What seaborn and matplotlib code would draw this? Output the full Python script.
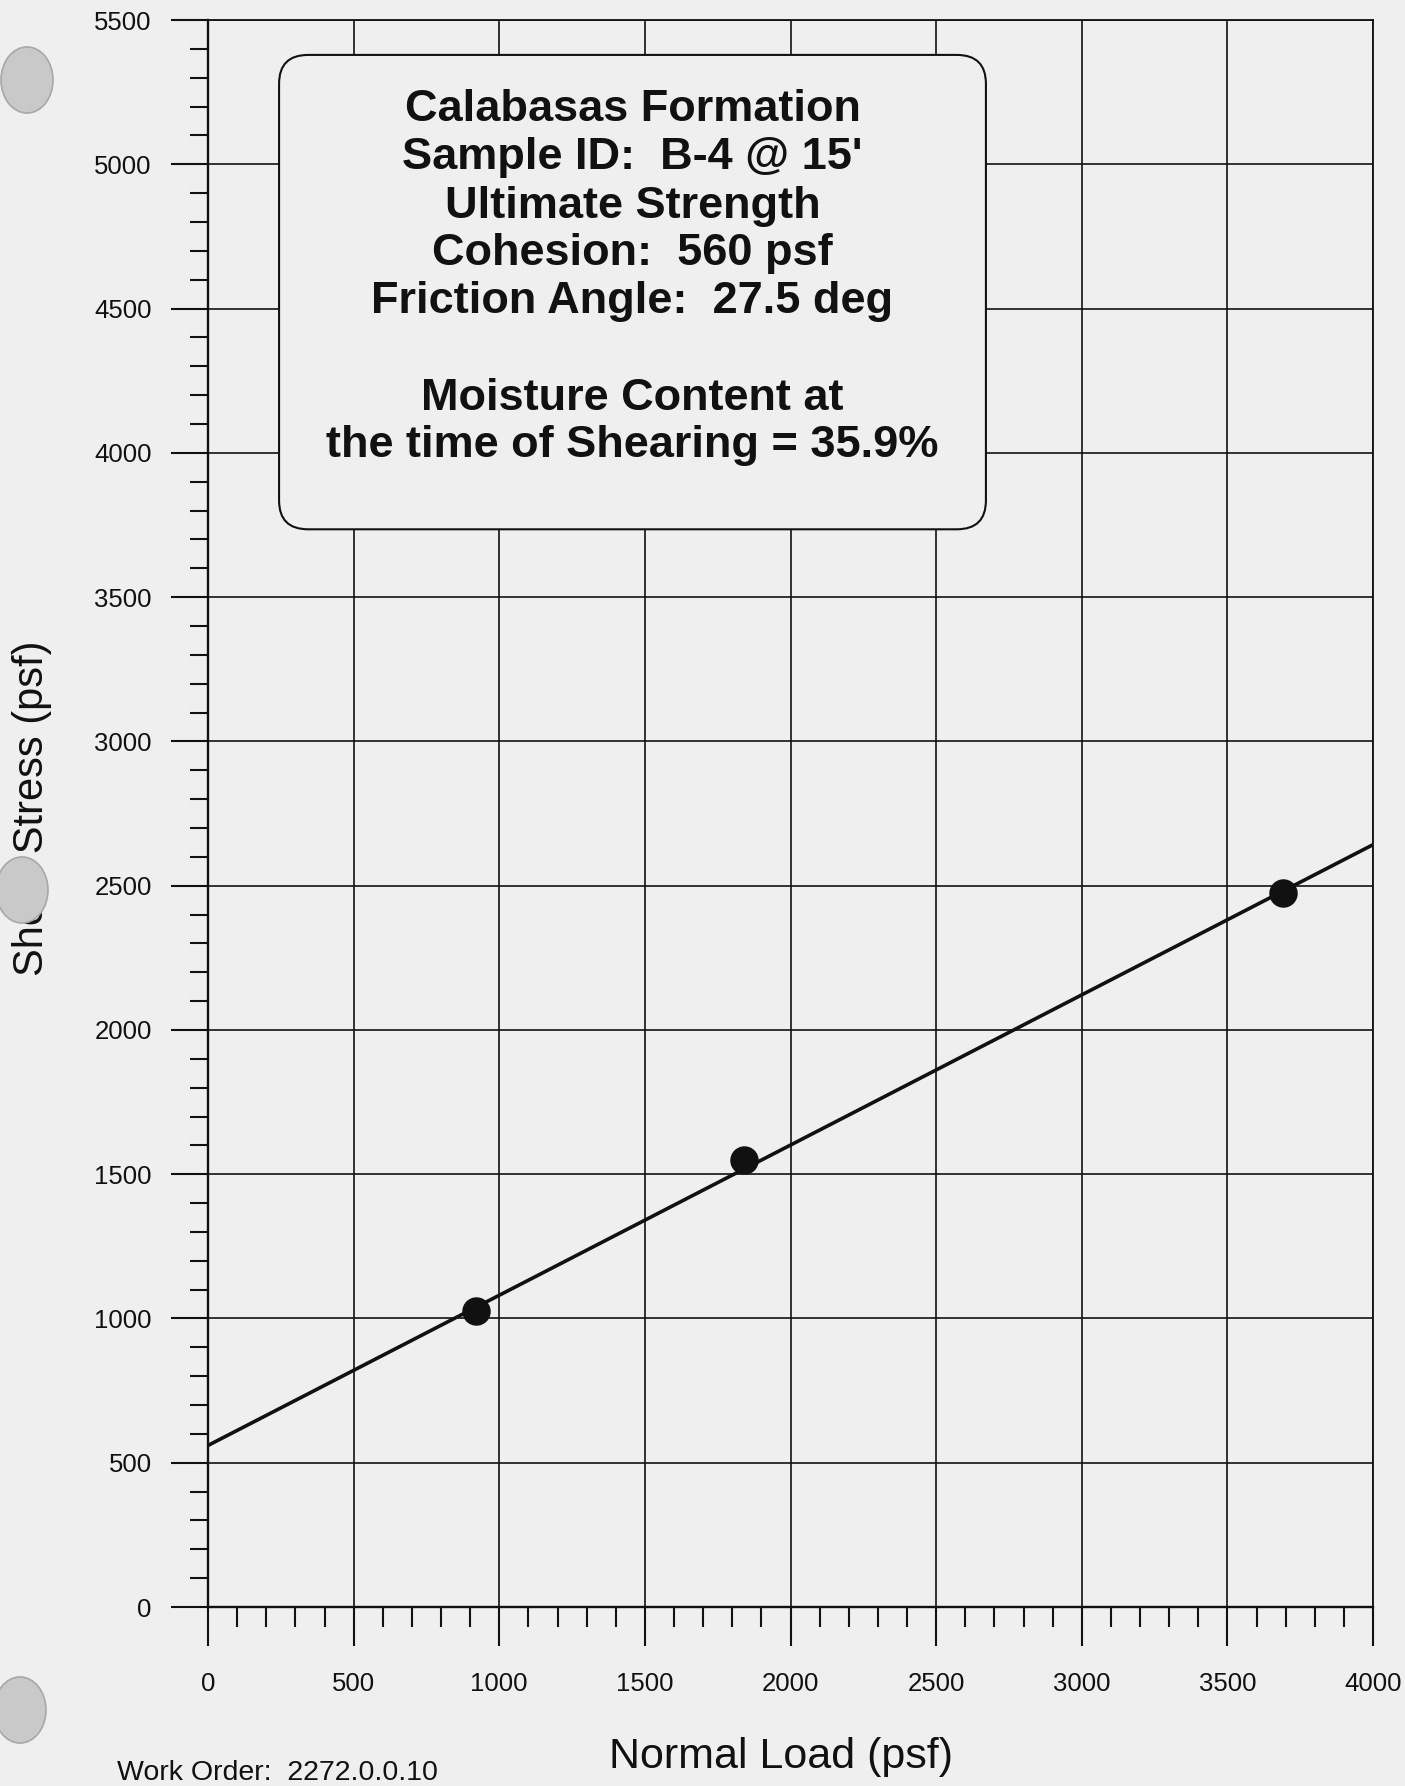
import numpy as np
import pandas as pd
import matplotlib
matplotlib.use("Agg")
import matplotlib.pyplot as plt
from matplotlib.patches import FancyBboxPatch, Circle
from matplotlib.ticker import MultipleLocator
import seaborn as sns

# Direct shear test results
normal_load = [920, 1840, 3690]          # psf
shear_stress = [1025, 1550, 2475]        # psf

# Strength envelope (cohesion 560 psf, friction angle 27.5 deg)
envelope_load = [0, 4000]
envelope_stress = [560, 2642]

summary_lines = [
    "Calabasas Formation",
    "Sample ID:  B-4 @ 15'",
    "Ultimate Strength",
    "Cohesion:  560 psf",
    "Friction Angle:  27.5 deg",
    "",
    "Moisture Content at",
    "the time of Shearing = 35.9%",
]

x_ticks = [0, 500, 1000, 1500, 2000, 2500, 3000, 3500, 4000]
y_ticks = [0, 500, 1000, 1500, 2000, 2500, 3000, 3500, 4000, 4500, 5000, 5500]

paper = "#efefef"
ink = "#111111"

sns.set_theme(style="ticks")
plt.rcParams["font.family"] = ["Liberation Sans", "DejaVu Sans"]

fig = plt.figure(figsize=(14.05, 17.86), dpi=100, facecolor=paper)
ax = fig.add_axes([208 / 1405, 0.1002, 1165 / 1405, 0.8886])
ax.set_facecolor(paper)

pts = pd.DataFrame({"load": normal_load, "stress": shear_stress})
env = pd.DataFrame({"load": envelope_load, "stress": envelope_stress})

sns.lineplot(data=env, x="load", y="stress", ax=ax, color=ink, lw=2.6, zorder=4)
sns.scatterplot(data=pts, x="load", y="stress", ax=ax, color=ink, s=420,
                edgecolor=ink, linewidth=0, zorder=5)

ax.set_xlim(0, 4000)
ax.set_ylim(0, 5500)
ax.set_xticks(x_ticks)
ax.set_yticks(y_ticks)
ax.xaxis.set_minor_locator(MultipleLocator(100))
ax.yaxis.set_minor_locator(MultipleLocator(100))

ax.grid(True, which="major", color=ink, lw=1.2)
ax.set_axisbelow(True)

for side in ["left", "bottom"]:
    ax.spines[side].set_linewidth(1.7)
    ax.spines[side].set_color(ink)
for side in ["top", "right"]:
    ax.spines[side].set_visible(True)
    ax.spines[side].set_linewidth(1.3)
    ax.spines[side].set_color(ink)

ax.tick_params(axis="y", which="major", direction="out", length=26.5, width=1.5,
               color=ink, labelsize=18.5, labelcolor=ink, pad=14)
ax.tick_params(axis="y", which="minor", direction="out", length=13, width=1.5, color=ink)
ax.tick_params(axis="x", which="major", direction="out", length=28, width=1.5,
               color=ink, labelsize=18.5, labelcolor=ink, pad=19)
ax.tick_params(axis="x", which="minor", direction="out", length=14.5, width=1.5, color=ink)

ax.set_xlabel("Normal Load (psf)", fontsize=31, color=ink)
ax.set_ylabel("Shear Stress (psf)", fontsize=30, color=ink)
ax.xaxis.set_label_coords(0.492, -0.0945)
ax.xaxis.label.set_va("center")
ax.yaxis.set_label_coords(-0.151, 0.5035)
ax.yaxis.label.set_va("center")

# Summary box
box_x0, box_x1 = 244, 2671
box_y0, box_y1 = 3735, 5379
box = FancyBboxPatch((box_x0, box_y0), box_x1 - box_x0, box_y1 - box_y0,
                     boxstyle="round,pad=0,rounding_size=100",
                     facecolor=paper, edgecolor=ink, lw=1.5, zorder=6)
ax.add_patch(box)

line_y = [5190, 5024, 4854, 4691, 4525, 4358, 4188, 4026]
cx = (box_x0 + box_x1) / 2
for txt, yy in zip(summary_lines, line_y):
    if txt:
        ax.text(cx, yy, txt, ha="center", va="center", fontsize=32.5,
                fontweight="bold", color=ink, zorder=7)

fig.text(117 / 1405, 1 - 1760 / 1786, "Work Order:  2272.0.0.10",
         ha="left", va="top", fontsize=20.5, color=ink)

# Binder punch holes along the left margin
for (px, py) in [(27, 80), (22, 890), (20, 1710)]:
    fig.patches.append(Circle((px / 1405, 1 - py / 1786), 26 / 1405,
                              transform=fig.transFigure, facecolor="#c9c9c9",
                              edgecolor="#a8a8a8", lw=1.2, zorder=10))

fig.savefig("out.png", dpi=100, facecolor=paper)
